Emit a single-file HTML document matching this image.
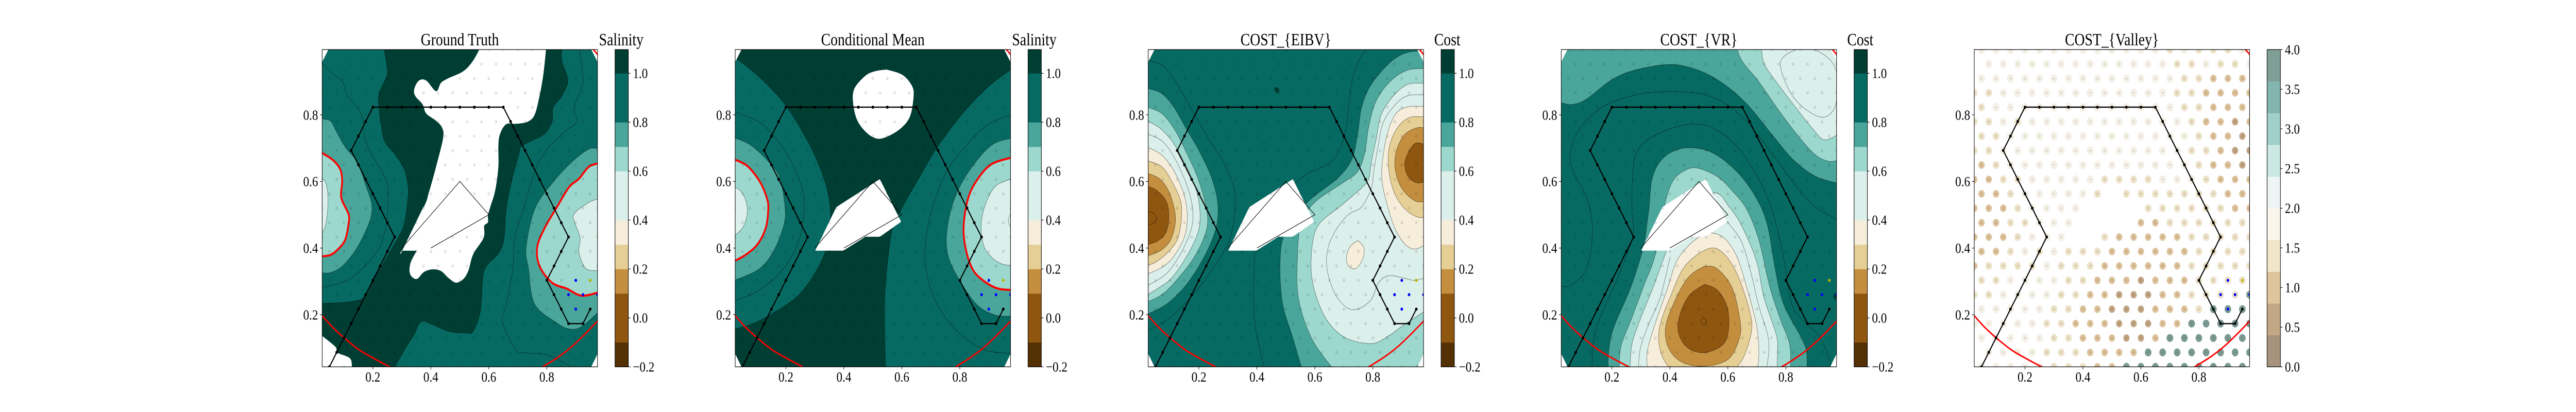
<!DOCTYPE html>
<html lang="en">
<head>
<meta charset="utf-8">
<title>Salinity and cost fields</title>
<style>
html,body{margin:0;padding:0;background:#fff;width:100%;height:100%;overflow:hidden;}
svg{display:block;width:100%;height:100%;font-family:"Liberation Serif","DejaVu Serif",serif;}
.big{font-size:33.3px;text-anchor:middle;fill:#000;}
.tick{font-size:27.8px;fill:#000;}
</style>
</head>
<body>
<svg id="fig" xmlns="http://www.w3.org/2000/svg" viewBox="0 0 6000 800" preserveAspectRatio="none">
<rect x="0" y="0" width="6000" height="800" fill="#fff"/>
<defs id="defs"></defs>
<g id="p0"></g>
<g id="p1"></g>
<g id="p2"></g>
<g id="p3"></g>
<g id="p4"></g>
<text class="big" x="1071" y="88">Ground Truth</text>
<text class="big" x="1447" y="88">Salinity</text>
<text class="big" x="2033" y="88">Conditional Mean</text>
<text class="big" x="2409" y="88">Salinity</text>
<text class="big" x="2995" y="88">COST_{EIBV}</text>
<text class="big" x="3371" y="88">Cost</text>
<text class="big" x="3957" y="88">COST_{VR}</text>
<text class="big" x="4333" y="88">Cost</text>
<text class="big" x="4919" y="88">COST_{Valley}</text>
</svg>
<script>
// ---------- axis tick values ----------
const xTickValues = [0.2, 0.4, 0.6, 0.8];
const yTickValues = [0.2, 0.4, 0.6, 0.8];
const fieldTickValues = [-0.2, 0.0, 0.2, 0.4, 0.6, 0.8, 1.0];
const valleyTickValues = [0, 0.5, 1, 1.5, 2, 2.5, 3, 3.5, 4];

// ---------- colour levels ----------
const fieldBounds = [-0.2, -0.1, 0.1, 0.2, 0.3, 0.4, 0.6, 0.7, 0.8, 1.0, 1.1];
const fieldColors = ['#543005', '#8f5610', '#c48e3f', '#e6cf95', '#f6eddb', '#dbefeb', '#9cd8cd', '#4aa69b', '#076a62', '#003e33'];
const valleyBounds = [0, 0.4, 0.8, 1.2, 1.6, 2, 2.4, 2.8, 3.2, 3.6, 4];
const valleyColors = ['#a6937e', '#c4a785', '#e0c49b', '#f1e6ca', '#faf6ec', '#ecf5f3', '#cbe9e2', '#a1cfca', '#82b5ae', '#7f9e96'];

// ---------- planned path and sensor points (data coordinates) ----------
const pathX = [0.05,0.075,0.1,0.125,0.15,0.175,0.2,0.225,0.25,0.275,0.25,0.225,0.2,0.175,0.15,0.125,0.15,0.175,0.2,0.25,0.3,0.35,0.4,0.45,0.5,0.55,0.6,0.65,0.675,0.7,0.725,0.75,0.775,0.8,0.825,0.85,0.875,0.85,0.825,0.8,0.825,0.85,0.875,0.925,0.95];
const pathY = [0.0433,0.0866,0.13,0.173,0.2165,0.26,0.303,0.346,0.39,0.433,0.476,0.52,0.563,0.606,0.65,0.693,0.736,0.78,0.823,0.823,0.823,0.823,0.823,0.823,0.823,0.823,0.823,0.823,0.78,0.736,0.693,0.65,0.606,0.563,0.52,0.476,0.433,0.39,0.346,0.303,0.26,0.2165,0.173,0.173,0.2165];
const blueX = [0.9, 0.875, 0.925, 0.975, 0.9];
const blueY = [0.303, 0.26, 0.26, 0.26, 0.2165];
const currentX = [0.95];
const currentY = [0.303];
const obstacleLineX = [0.3, 0.5, 0.6, 0.4];
const obstacleLineY = [0.4, 0.6, 0.5, 0.4];
const obstacleMask = [0.301,0.392, 0.374,0.523, 0.524,0.607, 0.5975,0.479, 0.524,0.434, 0.474,0.434, 0.398,0.392];
const budgetArcs = [
  [0.02,0.202, 0.06,0.163, 0.1,0.131, 0.15,0.096, 0.2,0.07, 0.265,0.04],
  [0.78,0.04, 0.84,0.073, 0.885,0.103, 0.93,0.14, 0.98,0.185],
  [0.955,1.0, 0.967,0.99, 0.98,0.975]
];

// ---------- contour shapes: v = level, c = boundary curve, e = closing points (absent means line only), r = thick red threshold ----------
const groundTruthBase = 1.05;
const groundTruthContours = [
 {v:0.9, c:[0.2355,1.01, 0.248,0.949, 0.248,0.917, 0.224,0.871, 0.219,0.843, 0.227,0.779, 0.24,0.722, 0.278,0.679, 0.308,0.637, 0.321,0.587, 0.321,0.551, 0.308,0.473, 0.291,0.438, 0.24,0.36, 0.206,0.31, 0.172,0.253, 0.112,0.238, 0.019,0.234], e:[0,0.234, 0,1.1, 0.2355,1.1]},
 {c:[0.02,0.96, 0.07,0.917, 0.095,0.9, 0.112,0.857, 0.159,0.804, 0.173,0.729, 0.197,0.679, 0.248,0.601, 0.252,0.559, 0.25,0.502, 0.244,0.459, 0.223,0.402, 0.18,0.353, 0.112,0.303, 0.02,0.28]},
 {v:0.75, c:[0.02,0.788, 0.053,0.782, 0.074,0.75, 0.104,0.704, 0.146,0.658, 0.176,0.587, 0.196,0.53, 0.189,0.481, 0.146,0.402, 0.095,0.346, 0.053,0.326, 0.02,0.326], e:[]},
 {v:0.65, r:1, c:[0.02,0.688, 0.061,0.665, 0.087,0.637, 0.094,0.601, 0.091,0.551, 0.116,0.502, 0.116,0.473, 0.104,0.424, 0.078,0.395, 0.053,0.379, 0.02,0.375], e:[]},
 {v:0.5, c:[0.02,0.612, 0.036,0.598, 0.044,0.566, 0.044,0.516, 0.036,0.466, 0.02,0.438], e:[]},
 {v:0.9, c:[0.853,1.01, 0.852,0.963, 0.873,0.903, 0.852,0.857, 0.822,0.821, 0.818,0.779, 0.788,0.74, 0.716,0.708, 0.703,0.679, 0.677,0.594, 0.66,0.516, 0.652,0.424, 0.631,0.381, 0.584,0.331, 0.571,0.211, 0.546,0.15, 0.52,0.145, 0.461,0.15, 0.401,0.172, 0.367,0.179, 0.342,0.14, 0.316,0.104, 0.269,0.033], e:[1.1,0.033, 1.1,1.01]},
 {c:[0.913,1.01, 0.92,0.942, 0.924,0.892, 0.894,0.821, 0.903,0.779, 0.852,0.743, 0.792,0.686, 0.758,0.63, 0.724,0.53, 0.69,0.431, 0.682,0.331, 0.657,0.218, 0.648,0.175, 0.691,0.097, 0.716,0.086, 0.801,0.079, 0.877,0.047, 0.886,0.04]},
 {v:0.75, c:[0.98,0.698, 0.945,0.697, 0.886,0.658, 0.818,0.594, 0.758,0.516, 0.729,0.402, 0.737,0.338, 0.758,0.232, 0.835,0.175, 0.878,0.157, 0.92,0.164, 0.98,0.209], e:[]},
 {v:0.65, r:1, c:[0.98,0.655, 0.945,0.644, 0.911,0.608, 0.877,0.583, 0.835,0.523, 0.792,0.459, 0.767,0.402, 0.775,0.346, 0.818,0.296, 0.869,0.278, 0.92,0.257, 0.98,0.267], e:[]},
 {v:0.5, c:[0.98,0.548, 0.945,0.537, 0.894,0.502, 0.898,0.473, 0.915,0.431, 0.911,0.388, 0.928,0.346, 0.949,0.333, 0.98,0.333], e:[]},
 {v:1.2, c:[0.575,1.01, 0.546,0.963, 0.512,0.931, 0.461,0.91, 0.435,0.896, 0.418,0.871, 0.384,0.903, 0.359,0.903, 0.343,0.878, 0.346,0.857, 0.371,0.832, 0.384,0.804, 0.418,0.782, 0.439,0.761, 0.442,0.729, 0.418,0.644, 0.393,0.566, 0.376,0.523, 0.302,0.392, 0.302,0.392, 0.351,0.392, 0.351,0.392, 0.329,0.353, 0.329,0.321, 0.351,0.307, 0.376,0.328, 0.406,0.336, 0.435,0.331, 0.461,0.31, 0.487,0.296, 0.512,0.307, 0.529,0.331, 0.546,0.381, 0.582,0.431, 0.584,0.466, 0.597,0.477, 0.597,0.498, 0.605,0.523, 0.622,0.573, 0.633,0.644, 0.633,0.708, 0.639,0.743, 0.66,0.772, 0.694,0.773, 0.733,0.779, 0.758,0.8, 0.775,0.857, 0.788,0.921, 0.799,1.01], e:[]},
 {v:1.2, c:[0.019,0.14, 0.07,0.104, 0.078,0.086, 0.121,0.069, 0.128,0.04], e:[0,0.04]}
];
const conditionalMeanBase = 1.05;
const conditionalMeanContours = [
 {v:0.9, c:[0.02,0.974, 0.075,0.938, 0.134,0.892, 0.202,0.825, 0.27,0.729, 0.313,0.651, 0.343,0.573, 0.354,0.495, 0.34,0.402, 0.304,0.331, 0.245,0.26, 0.168,0.211, 0.092,0.175, 0.02,0.156], e:[]},
 {c:[0.02,0.81, 0.1,0.782, 0.16,0.736, 0.219,0.658, 0.258,0.573, 0.26,0.488, 0.236,0.402, 0.185,0.331, 0.109,0.274, 0.02,0.24]},
 {v:0.75, c:[0.02,0.732, 0.075,0.711, 0.134,0.665, 0.177,0.615, 0.196,0.53, 0.194,0.473, 0.16,0.395, 0.109,0.338, 0.02,0.302], e:[]},
 {v:0.65, r:1, c:[0.02,0.667, 0.066,0.647, 0.109,0.601, 0.134,0.551, 0.139,0.516, 0.13,0.459, 0.1,0.409, 0.058,0.378, 0.02,0.36], e:[]},
 {v:0.5, c:[0.02,0.586, 0.049,0.566, 0.065,0.53, 0.065,0.495, 0.049,0.459, 0.02,0.436], e:[]},
 {v:0.9, c:[0.99,0.945, 0.899,0.885, 0.806,0.8, 0.721,0.701, 0.653,0.601, 0.602,0.523, 0.568,0.459, 0.553,0.374, 0.542,0.267, 0.541,0.161, 0.544,0.033], e:[1.1,0.033, 1.1,0.945]},
 {c:[0.98,0.8, 0.899,0.772, 0.823,0.708, 0.755,0.63, 0.704,0.516, 0.68,0.395, 0.695,0.289, 0.746,0.196, 0.814,0.133, 0.891,0.093, 0.98,0.083]},
 {v:0.75, c:[0.98,0.73, 0.908,0.708, 0.831,0.63, 0.78,0.544, 0.755,0.445, 0.763,0.367, 0.814,0.282, 0.865,0.225, 0.925,0.198, 0.98,0.196], e:[]},
 {v:0.65, r:1, c:[0.98,0.672, 0.908,0.651, 0.857,0.601, 0.827,0.544, 0.813,0.459, 0.823,0.388, 0.848,0.331, 0.891,0.296, 0.933,0.278, 0.98,0.274], e:[]},
 {v:0.5, c:[0.98,0.608, 0.925,0.587, 0.891,0.537, 0.874,0.473, 0.882,0.409, 0.908,0.374, 0.942,0.353, 0.98,0.347], e:[]},
 {c:[0.98,0.51, 0.967,0.482, 0.98,0.455]},
 {v:1.2, c:[0.547,0.936, 0.602,0.92, 0.636,0.885, 0.64,0.85, 0.627,0.793, 0.593,0.757, 0.542,0.732, 0.508,0.73, 0.474,0.75, 0.445,0.786, 0.432,0.835, 0.436,0.878, 0.474,0.917, 0.508,0.931, 0.547,0.936], e:[]}
];
const eibvBase = 0.9;
const eibvContours = [
 {c:[0.02,0.965, 0.072,0.949, 0.115,0.907, 0.157,0.843, 0.2,0.779, 0.242,0.715, 0.285,0.658, 0.319,0.587, 0.325,0.516, 0.31,0.438, 0.285,0.388, 0.225,0.31, 0.166,0.246, 0.098,0.189, 0.02,0.15]},
 {c:[0.789,1.01, 0.744,0.949, 0.7225,0.871, 0.71,0.772, 0.697,0.722, 0.676,0.679, 0.642,0.651, 0.574,0.623, 0.531,0.594]},
 {c:[0.3935,0.392, 0.388,0.267, 0.395,0.161, 0.4275,0.033]},
 {v:1.05, c:[0.469,0.884, 0.478,0.875, 0.472,0.866, 0.462,0.87, 0.461,0.88, 0.469,0.884], e:[]},
 {v:0.75, c:[0.02,0.88, 0.072,0.864, 0.115,0.821, 0.157,0.757, 0.2,0.693, 0.242,0.615, 0.2635,0.544, 0.2635,0.48, 0.242,0.417, 0.2,0.346, 0.149,0.282, 0.089,0.232, 0.02,0.2], e:[]},
 {v:0.65, c:[0.02,0.824, 0.072,0.804, 0.115,0.757, 0.149,0.701, 0.2,0.601, 0.2295,0.495, 0.217,0.431, 0.174,0.36, 0.115,0.296, 0.072,0.26, 0.02,0.237], e:[]},
 {v:0.5, c:[0.02,0.782, 0.064,0.761, 0.106,0.722, 0.149,0.658, 0.191,0.573, 0.204,0.502, 0.196,0.445, 0.157,0.374, 0.106,0.31, 0.064,0.282, 0.02,0.258], e:[]},
 {c:[0.02,0.743, 0.072,0.722, 0.115,0.672, 0.159,0.587, 0.1785,0.516, 0.174,0.459, 0.14,0.388, 0.089,0.324, 0.02,0.286]},
 {v:0.35, c:[0.02,0.704, 0.072,0.679, 0.115,0.63, 0.149,0.559, 0.16,0.495, 0.149,0.431, 0.106,0.367, 0.064,0.338, 0.02,0.321], e:[]},
 {v:0.25, c:[0.02,0.663, 0.072,0.644, 0.106,0.601, 0.136,0.544, 0.14,0.495, 0.128,0.431, 0.098,0.392, 0.055,0.36, 0.02,0.347], e:[]},
 {v:0.15, c:[0.02,0.625, 0.064,0.608, 0.098,0.566, 0.119,0.495, 0.106,0.431, 0.072,0.395, 0.02,0.375], e:[]},
 {v:0.0, c:[0.02,0.586, 0.055,0.573, 0.089,0.537, 0.096,0.488, 0.085,0.445, 0.055,0.42, 0.02,0.41], e:[]},
 {c:[0.02,0.51, 0.0425,0.505, 0.0536,0.489, 0.045,0.477, 0.02,0.466]},
 {v:0.75, c:[0.986,0.992, 0.922,0.988, 0.863,0.96, 0.795,0.892, 0.761,0.821, 0.748,0.743, 0.727,0.665, 0.676,0.608, 0.574,0.537, 0.497,0.445, 0.48,0.353, 0.489,0.232, 0.523,0.133, 0.557,0.033], e:[1.1,0.033, 1.1,0.992]},
 {v:0.65, c:[0.986,0.939, 0.922,0.935, 0.863,0.903, 0.812,0.843, 0.786,0.765, 0.773,0.689, 0.748,0.63, 0.693,0.594, 0.599,0.537, 0.5525,0.473, 0.54,0.374, 0.544,0.246, 0.591,0.125, 0.667,0.033], e:[1.1,0.033, 1.1,0.939]},
 {v:0.75, c:[0.948,0.04, 0.961,0.054, 0.976,0.069, 0.986,0.076], e:[1.1,0.076, 1.1,0.04]},
 {v:0.5, c:[0.986,0.894, 0.922,0.892, 0.871,0.857, 0.829,0.8, 0.812,0.729, 0.795,0.658, 0.786,0.608, 0.761,0.58, 0.684,0.523, 0.616,0.473, 0.591,0.409, 0.591,0.303, 0.633,0.196, 0.701,0.133, 0.795,0.113, 0.854,0.136, 0.905,0.168, 0.986,0.214], e:[1.1,0.214, 1.1,0.894]},
 {c:[0.98,0.86, 0.922,0.858, 0.88,0.833, 0.837,0.779, 0.82,0.715, 0.803,0.63, 0.795,0.58, 0.761,0.523, 0.718,0.502, 0.676,0.459, 0.646,0.402, 0.642,0.338, 0.667,0.267, 0.71,0.221, 0.752,0.218, 0.795,0.246, 0.82,0.296, 0.854,0.317, 0.905,0.31, 0.943,0.303, 0.98,0.31]},
 {v:0.35, c:[0.986,0.825, 0.922,0.824, 0.88,0.804, 0.85,0.743, 0.833,0.658, 0.833,0.594, 0.854,0.516, 0.88,0.452, 0.914,0.409, 0.948,0.397, 0.986,0.413], e:[1.1,0.413, 1.1,0.825]},
 {v:0.25, c:[0.986,0.793, 0.931,0.793, 0.888,0.765, 0.858,0.708, 0.854,0.644, 0.871,0.573, 0.905,0.523, 0.948,0.495, 0.986,0.491], e:[1.1,0.491, 1.1,0.793]},
 {v:0.15, c:[0.986,0.761, 0.948,0.76, 0.905,0.736, 0.878,0.679, 0.88,0.623, 0.905,0.573, 0.948,0.541, 0.986,0.541], e:[1.1,0.541, 1.1,0.761]},
 {v:0.0, c:[0.986,0.709, 0.948,0.715, 0.922,0.686, 0.91,0.651, 0.922,0.615, 0.952,0.596, 0.986,0.601], e:[1.1,0.601, 1.1,0.709]},
 {v:0.35, c:[0.748,0.4225, 0.769,0.402, 0.765,0.367, 0.74,0.338, 0.714,0.349, 0.71,0.378, 0.723,0.406, 0.748,0.4225], e:[]}
];
const vrBase = 0.9;
const vrContours = [
 {v:0.75, c:[0.019,0.838, 0.061,0.831, 0.112,0.847, 0.197,0.904, 0.282,0.935, 0.401,0.951, 0.495,0.935, 0.58,0.896, 0.665,0.833, 0.75,0.743, 0.826,0.665, 0.903,0.615, 0.983,0.594], e:[1.1,0.594, 1.1,1.1, 0,1.1, 0,0.838]},
 {v:0.65, c:[0.629,1.01, 0.648,0.963, 0.707,0.899, 0.775,0.814, 0.843,0.736, 0.903,0.679, 0.95,0.66, 0.983,0.665], e:[1.1,0.665, 1.1,1.1, 0.629,1.1]},
 {v:0.5, c:[0.716,1.01, 0.724,0.956, 0.767,0.899, 0.835,0.821, 0.886,0.765, 0.932,0.725, 0.983,0.743], e:[1.1,0.743, 1.1,1.1, 0.716,1.1]},
 {c:[0.98,0.915, 0.958,0.96, 0.903,0.994, 0.843,0.997, 0.792,0.974, 0.782,0.942, 0.809,0.878, 0.852,0.828, 0.92,0.793, 0.962,0.811, 0.98,0.86]},
 {c:[0.02,0.284, 0.061,0.289, 0.112,0.338, 0.133,0.445, 0.116,0.544, 0.07,0.623, 0.056,0.679, 0.083,0.75, 0.163,0.821, 0.282,0.86, 0.393,0.87, 0.503,0.864, 0.588,0.836, 0.665,0.779, 0.75,0.686, 0.835,0.587, 0.903,0.523, 0.98,0.484]},
 {c:[0.133,0.033, 0.133,0.104, 0.155,0.182, 0.206,0.282, 0.252,0.381, 0.274,0.445, 0.269,0.516, 0.272,0.623, 0.286,0.687, 0.342,0.736, 0.461,0.771, 0.554,0.758, 0.648,0.687, 0.733,0.559, 0.784,0.409, 0.818,0.239, 0.86,0.182, 0.911,0.14, 0.95,0.069, 0.954,0.033]},
 {v:0.75, c:[0.187,0.033, 0.189,0.09, 0.206,0.161, 0.265,0.282, 0.308,0.402, 0.322,0.48, 0.329,0.53, 0.337,0.601, 0.359,0.651, 0.401,0.686, 0.461,0.701, 0.537,0.69, 0.614,0.644, 0.682,0.573, 0.733,0.48, 0.763,0.338, 0.792,0.232, 0.852,0.133, 0.871,0.09, 0.873,0.033], e:[]},
 {v:0.65, c:[0.225,0.033, 0.231,0.104, 0.265,0.182, 0.308,0.282, 0.35,0.381, 0.38,0.523, 0.41,0.601, 0.452,0.633, 0.495,0.64, 0.563,0.615, 0.614,0.573, 0.665,0.516, 0.707,0.424, 0.745,0.282, 0.783,0.182, 0.813,0.111, 0.816,0.033], e:[]},
 {v:0.5, c:[0.262,0.033, 0.269,0.111, 0.299,0.189, 0.342,0.282, 0.393,0.402, 0.452,0.523, 0.554,0.566, 0.605,0.523, 0.648,0.466, 0.699,0.36, 0.724,0.253, 0.767,0.14, 0.771,0.09, 0.769,0.033], e:[]},
 {c:[0.291,0.033, 0.2975,0.097, 0.325,0.168, 0.367,0.253, 0.401,0.374]},
 {c:[0.597,0.48, 0.648,0.417, 0.682,0.317, 0.707,0.225, 0.737,0.14, 0.741,0.09, 0.733,0.033]},
 {v:0.35, c:[0.323,0.033, 0.322,0.09, 0.35,0.175, 0.393,0.282, 0.427,0.367, 0.486,0.424, 0.537,0.445, 0.588,0.429, 0.631,0.374, 0.665,0.282, 0.699,0.168, 0.707,0.09, 0.703,0.033], e:[]},
 {v:0.25, c:[0.401,0.033, 0.367,0.09, 0.364,0.161, 0.401,0.253, 0.452,0.346, 0.529,0.397, 0.58,0.388, 0.631,0.324, 0.673,0.218, 0.682,0.154, 0.656,0.076, 0.622,0.033], e:[]},
 {v:0.15, c:[0.52,0.346, 0.563,0.338, 0.614,0.282, 0.641,0.189, 0.641,0.133, 0.605,0.069, 0.537,0.047, 0.469,0.049, 0.418,0.072, 0.388,0.118, 0.388,0.175, 0.427,0.26, 0.469,0.317, 0.52,0.346], e:[]},
 {v:0.0, c:[0.52,0.291, 0.563,0.274, 0.597,0.225, 0.603,0.161, 0.584,0.111, 0.52,0.086, 0.461,0.101, 0.429,0.147, 0.436,0.204, 0.469,0.26, 0.52,0.291], e:[]},
 {c:[0.516,0.192, 0.526,0.181, 0.516,0.17, 0.506,0.181, 0.516,0.192]},
 {v:1.05, c:[0.971,0.265, 0.979,0.255, 0.971,0.245, 0.963,0.255, 0.971,0.265], e:[]}
];

// ---------- COST_{Valley} marker values, one row per lattice line, bottom to top ----------
const A = 1.8, B = 1.4, C = 1.0, D = 0.6, T = 3.8, _ = null;
const valleyRows = [
 [A,A,A,A,A,B,B,B,C,C,T,T,T,T,T,T,T,T,T],
 [_,A,A,A,A,B,B,B,C,C,C,C,T,T,T,T,T,T,T,T],
 [A,A,A,A,A,B,B,C,C,C,D,D,C,T,T,T,T,T,T],
 [A,A,A,A,A,B,B,C,C,C,D,D,D,C,C,T,T,T,T,T],
 [A,A,A,A,A,B,B,C,C,D,D,D,C,C,C,B,T,T,T],
 [B,B,A,A,A,A,B,B,C,C,D,D,D,C,C,B,B,B,B,T],
 [B,B,A,A,A,A,B,B,C,C,C,D,C,C,C,B,B,B,B],
 [C,B,B,B,B,A,B,B,B,C,C,C,C,C,C,B,B,B,B,B],
 [C,C,B,A,B,A,B,B,B,C,C,C,C,C,C,B,B,B,B],
 [C,C,C,B,A,A,A,_,_,B,C,C,C,C,C,B,B,B,B,B],
 [C,C,B,B,A,A,A,_,_,_,_,C,C,B,B,B,B,B,B],
 [C,C,C,B,A,A,A,A,_,_,_,_,B,B,B,B,B,B,C,C],
 [C,C,B,A,A,A,A,A,B,_,B,B,B,B,B,B,B,C,C],
 [C,C,B,B,A,A,A,A,A,B,B,B,B,A,A,A,B,C,C,C],
 [C,B,A,A,A,A,A,A,A,A,A,A,A,A,A,B,C,C,D],
 [B,B,A,A,A,A,A,A,A,A,A,A,A,A,A,B,B,C,D,D],
 [B,B,A,A,A,A,A,A,A,A,A,A,A,A,A,B,C,C,D],
 [B,B,A,B,A,A,A,A,A,A,A,A,A,A,A,B,C,C,D,C],
 [B,A,A,A,A,A,A,A,A,A,A,A,A,A,B,B,C,C,C],
 [B,B,A,A,A,A,A,A,A,A,A,A,A,A,B,B,C,C,C,C],
 [A,A,A,A,A,A,A,A,A,A,A,A,A,A,B,B,C,C,C],
 [_,A,A,A,A,A,A,A,A,A,A,A,A,A,B,B,A,B,B,A],
 [A,A,A,A,A,A,A,A,A,A,A,A,A,B,A,B,B,B,A]
];

// ---------- layout ----------
const SVGNS = 'http://www.w3.org/2000/svg';
const AX_W = 641.3, AX_H = 616, AX_TOP = 96.3, AX_BOTTOM = 712.3;
const XMIN = 0.025, XMAX = 0.975, YMIN = 0.0433, YMAX = 0.9959;
const panelLefts = [750.4, 1712.4, 2674.4, 3636.4, 4598.4];
const CB_GAP = 40.8, CB_W = 31;
const domainCorners = [0.0466,0.9959, 0.9534,0.9959, 0.975,0.959, 0.975,0.082, 0.9534,0.0433, 0.0466,0.0433, 0.025,0.082, 0.025,0.959];

function make(tag, parent, attrs) {
  const el = document.createElementNS(SVGNS, tag);
  for (const k in attrs) el.setAttribute(k, attrs[k]);
  parent.appendChild(el);
  return el;
}
function colorFor(v, bounds, colors) {
  if (v > bounds[bounds.length - 1]) return '#ffffff';
  for (let i = 0; i < colors.length; i++) if (v <= bounds[i + 1]) return colors[i];
  return colors[colors.length - 1];
}
function smoothPath(flat, sx, sy) {
  const p = [];
  for (let i = 0; i < flat.length; i += 2) p.push([sx(flat[i]), sy(flat[i + 1])]);
  let d = 'M' + p[0][0].toFixed(1) + ' ' + p[0][1].toFixed(1);
  for (let i = 0; i < p.length - 1; i++) {
    const p0 = p[i - 1] || p[i], p1 = p[i], p2 = p[i + 1], p3 = p[i + 2] || p2;
    const c1x = p1[0] + (p2[0] - p0[0]) / 6, c1y = p1[1] + (p2[1] - p0[1]) / 6;
    const c2x = p2[0] - (p3[0] - p1[0]) / 6, c2y = p2[1] - (p3[1] - p1[1]) / 6;
    d += 'C' + c1x.toFixed(1) + ' ' + c1y.toFixed(1) + ' ' + c2x.toFixed(1) + ' ' + c2y.toFixed(1) + ' ' + p2[0].toFixed(1) + ' ' + p2[1].toFixed(1);
  }
  return d;
}
function linePath(flat, sx, sy) {
  let d = '';
  for (let i = 0; i < flat.length; i += 2) d += (i ? 'L' : 'M') + sx(flat[i]).toFixed(1) + ' ' + sy(flat[i + 1]).toFixed(1);
  return d;
}
function zip(xs, ys) {
  const out = [];
  xs.forEach((x, i) => out.push(x, ys[i]));
  return out;
}
function latticeX(rowIndex, col) {
  return (rowIndex % 2 === 0) ? 0.05 * (col + 1) : 0.025 + 0.05 * col;
}
function latticeY(rowIndex) {
  return YMIN + 0.04329 * rowIndex;
}

const defs = document.getElementById('defs');

function drawPanel(idx, base, contours) {
  const g = document.getElementById('p' + idx);
  const left = panelLefts[idx];
  const sx = v => left + (v - XMIN) / (XMAX - XMIN) * AX_W;
  const sy = v => AX_BOTTOM - (v - YMIN) / (YMAX - YMIN) * AX_H;

  const axClip = make('clipPath', defs, {id: 'ax' + idx});
  
  
  const axRect = make('rect', axClip, {x: left, y: AX_TOP, width: AX_W, height: AX_H});
  
  

  const fieldClip = make('clipPath', defs, {id: 'field' + idx});
  
  
  const fieldShape = make('path', fieldClip, {d: linePath(domainCorners, sx, sy) + 'Z'});
  
  

  const plot = make('g', g, {'clip-path': 'url(#ax' + idx + ')'});
  
  

  if (contours) {
    const field = make('g', plot, {'clip-path': 'url(#field' + idx + ')'});
    
    
    const bg = make('path', field, {d: linePath(domainCorners, sx, sy) + 'Z', fill: colorFor(base, fieldBounds, fieldColors)});
    
    
    contours.forEach(s => {
      const curve = smoothPath(s.c, sx, sy);
      if (s.e) {
        const closing = s.e.length ? 'L' + linePath(s.e, sx, sy).slice(1) : '';
        const band = make('path', field, {d: curve + closing + 'Z', fill: colorFor(s.v, fieldBounds, fieldColors), stroke: 'none'});
        
        
      }
      if (s.v === undefined || s.v < 1.0) {
        const line = make('path', field, {d: curve, fill: 'none', stroke: 'rgba(0,0,0,0.6)', 'stroke-width': 0.8});
        
        
      }
    });
    const mask = make('path', field, {d: linePath(obstacleMask, sx, sy) + 'Z', fill: '#fff'});
    
    
    contours.filter(s => s.r).forEach(s => {
      const thick = make('path', plot, {d: smoothPath(s.c, sx, sy), fill: 'none', stroke: '#ff0000', 'stroke-width': 4});
      
      
    });
  }

  valleyRows.forEach((row, r) => {
    row.forEach((val, c) => {
      if (val === null) return;
      const cx = sx(latticeX(r, c)), cy = sy(latticeY(r));
      if (!contours) {
        const teal = val > 2;
        const m = make('circle', plot, {cx: cx, cy: cy, r: 7, fill: colorFor(val, valleyBounds, valleyColors), stroke: teal ? 'rgba(25,85,75,0.45)' : 'rgba(150,100,30,0.13)', 'stroke-width': 1.5});
        
        
      }
      const dot = make('circle', plot, {cx: cx, cy: cy, r: 3.2, fill: 'rgba(0,0,0,0.1)'});
      
      
    });
  });

  budgetArcs.forEach(a => {
    const arc = make('path', plot, {d: smoothPath(a, sx, sy), fill: 'none', stroke: '#ff0000', 'stroke-width': 3});
    
    
  });

  if (contours) {
    const ob = make('path', plot, {d: linePath(zip(obstacleLineX, obstacleLineY), sx, sy), fill: 'none', stroke: '#000', 'stroke-width': 1.1});
    
    
  }

  const route = make('path', plot, {d: linePath(zip(pathX, pathY), sx, sy), fill: 'none', stroke: '#000', 'stroke-width': 2.4, 'stroke-linejoin': 'round'});
  
  
  pathX.forEach((x, i) => {
    const wp = make('circle', plot, {cx: sx(x), cy: sy(pathY[i]), r: 3, fill: '#000'});
    
    
  });
  blueX.forEach((x, i) => {
    const b = make('circle', plot, {cx: sx(x), cy: sy(blueY[i]), r: 3, fill: '#0000ff'});
    
    
  });
  currentX.forEach((x, i) => {
    const y = make('circle', plot, {cx: sx(x), cy: sy(currentY[i]), r: 3, fill: '#bfb400'});
    
    
  });

  const frame = make('rect', g, {x: left, y: AX_TOP, width: AX_W, height: AX_H, fill: 'none', stroke: '#000', 'stroke-width': 1.2});
  
  

  xTickValues.forEach(v => {
    const t = make('line', g, {x1: sx(v), x2: sx(v), y1: AX_BOTTOM, y2: AX_BOTTOM + 5, stroke: '#000', 'stroke-width': 1.1});
    
    
    const l = make('text', g, {class: 'tick', x: sx(v), y: 741, 'text-anchor': 'middle'});
    
    
    l.textContent = v.toFixed(1);
  });
  yTickValues.forEach(v => {
    const t = make('line', g, {x1: left - 5, x2: left, y1: sy(v), y2: sy(v), stroke: '#000', 'stroke-width': 1.1});
    
    
    const l = make('text', g, {class: 'tick', x: left - 9.5, y: sy(v) + 9.3, 'text-anchor': 'end'});
    
    
    l.textContent = v.toFixed(1);
  });

  // colour bar
  const bounds = contours ? fieldBounds : valleyBounds;
  const colors = contours ? fieldColors : valleyColors;
  const ticks = contours ? fieldTickValues : valleyTickValues;
  const cbMin = contours ? -0.2 : 0;
  const cbMax = contours ? 1.097 : 4;
  const cbLeft = left + AX_W + CB_GAP;
  const cy = v => AX_BOTTOM - (v - cbMin) / (cbMax - cbMin) * AX_H;
  colors.forEach((col, i) => {
    const top = cy(Math.min(bounds[i + 1], cbMax)), bottom = cy(bounds[i]);
    const seg = make('rect', g, {x: cbLeft, y: top, width: CB_W, height: bottom - top + 0.4, fill: col});
    
    
  });
  const cbFrame = make('rect', g, {x: cbLeft, y: AX_TOP, width: CB_W, height: AX_H, fill: 'none', stroke: '#000', 'stroke-width': 1.2});
  
  
  ticks.forEach(v => {
    const t = make('line', g, {x1: cbLeft + CB_W, x2: cbLeft + CB_W + 5, y1: cy(v), y2: cy(v), stroke: '#000', 'stroke-width': 1.1});
    
    
    const l = make('text', g, {class: 'tick', x: cbLeft + CB_W + 10.5, y: cy(v) + 9.3});
    
    
    l.textContent = (v < 0 ? '\u2212' : '') + Math.abs(v).toFixed(1);
  });
}

drawPanel(0, groundTruthBase, groundTruthContours);
drawPanel(1, conditionalMeanBase, conditionalMeanContours);
drawPanel(2, eibvBase, eibvContours);
drawPanel(3, vrBase, vrContours);
drawPanel(4, null, null);
</script>
</body>
</html>
